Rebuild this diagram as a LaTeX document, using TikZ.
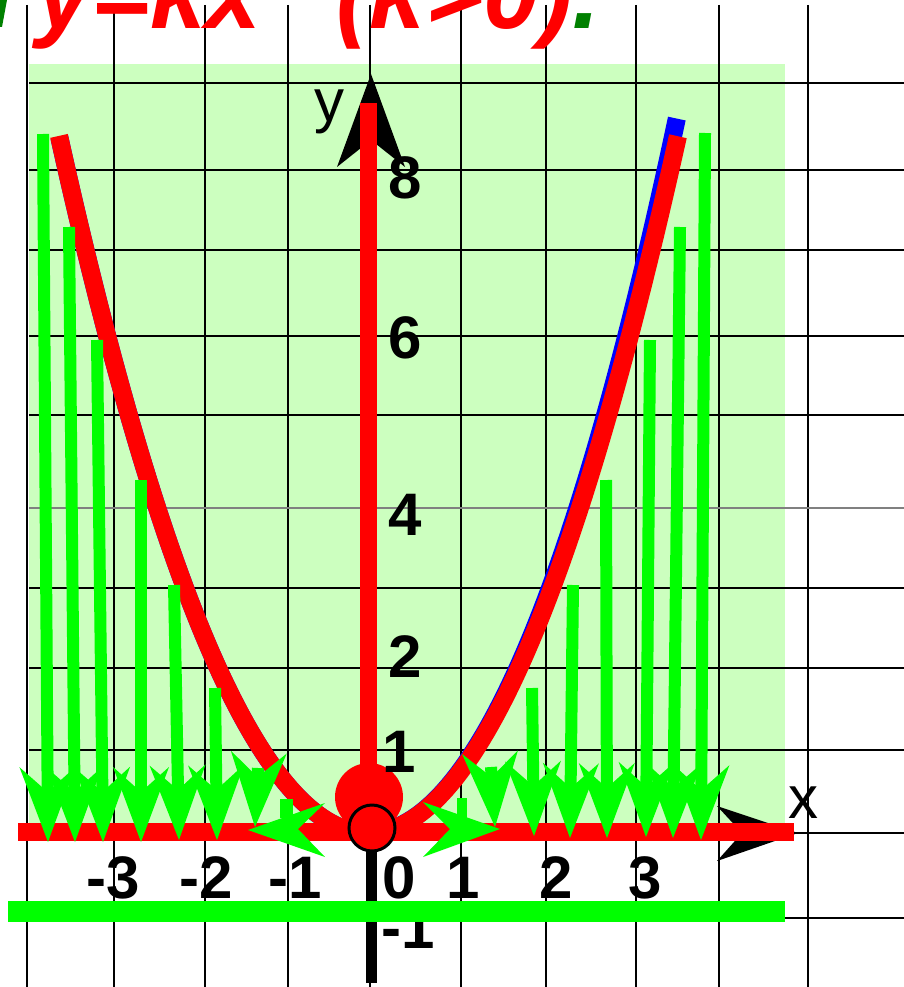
\documentclass[tikz,border=0pt]{standalone}
\usepackage{fontspec}
\setmainfont{Liberation Sans}
\usetikzlibrary{calc}
\definecolor{bgreen}{RGB}{204,255,191}
\definecolor{agreen}{RGB}{0,255,0}
\definecolor{dgreen}{RGB}{0,128,0}
\definecolor{ared}{RGB}{255,0,0}
\definecolor{ablue}{RGB}{0,0,255}
\newcommand{\garrow}[3]{%
  \coordinate (#1w) at ($(#3)!75pt!(#2)$);
  \coordinate (#1n) at ($(#3)!46pt!(#2)$);
  \draw[agreen, line width=12pt] (#2) -- (#1n);
  \fill[agreen] (#3) -- ($(#1w)!28pt!90:(#3)$) -- ($(#3)!50pt!(#2)$) -- ($(#1w)!28pt!-90:(#3)$) -- cycle;
}
\begin{document}
\begin{tikzpicture}[x=1pt,y=-1pt,
  gridline/.style={black, line width=2.2pt},
  ticklab/.style={font=\fontsize{60}{60}\selectfont\bfseries, inner sep=0pt, text=black},
  axlab/.style={font=\fontsize{60}{60}\selectfont, inner sep=0pt, text=black},
  titlefont/.style={anchor=base west, inner sep=0pt, font=\fontsize{100}{100}\selectfont\bfseries\itshape, text=ared},
  redaxis/.style={ared, line width=18pt},
  blackaxis/.style={black, line width=11pt},
]
\useasboundingbox (0,0) rectangle (904,987);
% background
\fill[bgreen] (29,64) rectangle (785,830);
% grid
\foreach \gx in {27,114,205,288,370,461,546,636,719,808}
  \draw[gridline] (\gx,5) -- (\gx,987);
\foreach \gy in {83,170,250,336,415,588,668,750,833,918}
  \draw[gridline] (29,\gy) -- (904,\gy);
\draw[gray, line width=1.5pt] (29,508) -- (904,508);
% title (only its lower part lies on the page)
\node[titlefont] (title1) at (36,29) {y=kx};
\node[titlefont] (title2) at (336,29) {(k>0)\textcolor{dgreen}{.}};
\fill[dgreen] (0,0) -- (7,0) -- (2,27) -- (0,27) -- cycle;
% black axes
\coordinate (ybot) at (371,983);
\coordinate (ytip) at (371,74);
\coordinate (ynotch) at (371,140);
\draw[blackaxis] (ybot) -- (ynotch);
\fill[black] (ytip) -- (337,167) -- (ynotch) -- (405,167) -- cycle;
\coordinate (xleft) at (18,833);
\coordinate (xtip) at (798,833);
\coordinate (xnotch) at (742,833);
\draw[blackaxis] (xleft) -- (xnotch);
\fill[black] (xtip) -- (717,806) -- (xnotch) -- (717,861) -- cycle;
% parabolas
\draw[ablue, line width=18pt] plot[domain=-3.53:3.544, samples=140]
  ({370+88*\x-5*((\x+3.53)/7.07)^4},{833-83*0.679*(\x+0.017)*(\x+0.017)});
\draw[ared, line width=18pt] plot[domain=-3.534:3.5, samples=140]
  ({370+88*\x},{833-83*0.679*(\x+0.017)*(\x+0.017)});
% red axes
\coordinate (rytop) at (368,103);
\coordinate (rybot) at (368,800);
\draw[ared, line width=17pt] (rytop) -- (rybot);
\coordinate (rxl) at (18,832);
\coordinate (rxr) at (794,832);
\draw[redaxis] (rxl) -- (rxr);
% red circles
\fill[ared] (369,797) circle[radius=34];
\filldraw[fill=ared, draw=black, line width=3pt] (372,828) circle[radius=23];
% green arrows
\coordinate (a1s) at (43,134);  \coordinate (a1t) at (48,842);  \garrow{a1}{a1s}{a1t}
\coordinate (a2s) at (69,227);  \coordinate (a2t) at (75,842);  \garrow{a2}{a2s}{a2t}
\coordinate (a3s) at (97,340);  \coordinate (a3t) at (103,842); \garrow{a3}{a3s}{a3t}
\coordinate (a4s) at (141,480); \coordinate (a4t) at (141,842); \garrow{a4}{a4s}{a4t}
\coordinate (a5s) at (174,585); \coordinate (a5t) at (179,840); \garrow{a5}{a5s}{a5t}
\coordinate (a6s) at (215,688); \coordinate (a6t) at (217,840); \garrow{a6}{a6s}{a6t}
\coordinate (a7s) at (258,768); \coordinate (a7t) at (255,827); \garrow{a7}{a7s}{a7t}
\coordinate (b1s) at (491,767); \coordinate (b1t) at (495,827); \garrow{b1}{b1s}{b1t}
\coordinate (b2s) at (532,688); \coordinate (b2t) at (534,836); \garrow{b2}{b2s}{b2t}
\coordinate (b3s) at (573,585); \coordinate (b3t) at (570,838); \garrow{b3}{b3s}{b3t}
\coordinate (b4s) at (606,480); \coordinate (b4t) at (607,838); \garrow{b4}{b4s}{b4t}
\coordinate (b5s) at (650,340); \coordinate (b5t) at (646,837); \garrow{b5}{b5s}{b5t}
\coordinate (b6s) at (680,227); \coordinate (b6t) at (673,838); \garrow{b6}{b6s}{b6t}
\coordinate (b7s) at (705,133); \coordinate (b7t) at (701,840); \garrow{b7}{b7s}{b7t}
% sideways arrows
\fill[agreen] (280,799) rectangle (293,818);
\fill[agreen] (248,830) -- (325,803) -- (298,829) -- (325,857) -- cycle;
\fill[agreen] (457,798) rectangle (467,818);
\fill[agreen] (500,829) -- (423,802) -- (450,829) -- (423,857) -- cycle;
% labels
\node[axlab] (ylab) at (329,112) {y};
\node[axlab] (xlab) at (803,803) {x};
\node[ticklab] (y8) at (405,178) {8};
\node[ticklab] (y6) at (405,338) {6};
\node[ticklab] (y4) at (405,515) {4};
\node[ticklab] (y2) at (405,657) {2};
\node[ticklab] (y1) at (399,752) {1};
\node[ticklab] (xm3) at (113,878) {-3};
\node[ticklab] (xm2) at (206,878) {-2};
\node[ticklab] (xm1) at (295,878) {-1};
\node[ticklab] (x0) at (399,878) {0};
\node[ticklab] (x1) at (463,878) {1};
\node[ticklab] (x2) at (556,878) {2};
\node[ticklab] (x3) at (645,878) {3};
\node[ticklab] (ym1) at (408,928) {-1};
% bottom green line
\coordinate (gl) at (8,911);
\coordinate (gr) at (785,911);
\draw[agreen, line width=21pt] (gl) -- (gr);
\end{tikzpicture}
\end{document}
